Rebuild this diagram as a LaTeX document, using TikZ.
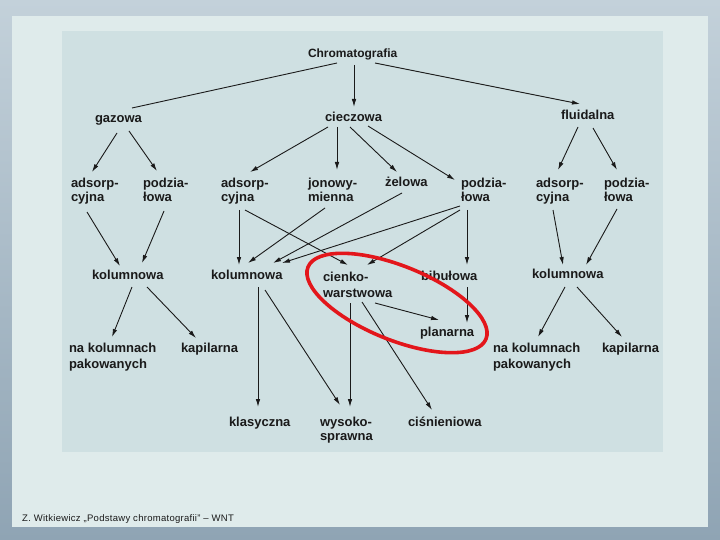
\documentclass[tikz,border=0pt]{standalone}
\usepackage{fontspec}
\setmainfont{Liberation Sans}
\newfontfamily\lblfont{Liberation Sans Bold}
\newfontfamily\srcfont[LetterSpace=3]{Liberation Sans}
\usetikzlibrary{arrows.meta}
\definecolor{bgtop}{HTML}{C3D1DA}
\definecolor{bgbot}{HTML}{8FA4B4}
\definecolor{panelc}{HTML}{DFEBEB}
\definecolor{imgc}{HTML}{CFE0E2}
\definecolor{inkc}{HTML}{1A1A1A}
\definecolor{markred}{HTML}{E3161B}
\begin{document}
\begin{tikzpicture}[x=1pt,y=-1pt,
  lbl/.style={font=\lblfont\fontsize{13}{14}\selectfont, inner sep=0pt, outer sep=0pt, align=left, anchor=base west, text=inkc},
  arr/.style={draw=inkc, line width=0.9pt, -{Latex[length=8pt,width=4.5pt]}},
  plainln/.style={draw=inkc, line width=0.9pt}]
\useasboundingbox (0,0) rectangle (720,540);
% background
\shade[top color=bgtop, bottom color=bgbot] (0,0) rectangle (720,540);
\fill[panelc] (12,16) rectangle (708,527);
\fill[imgc] (62,31) rectangle (663,452);
% nodes (multi-line nodes are placed at the baseline of their last line)
\node[lbl, font=\lblfont\fontsize{12}{14}\selectfont] (chrom) at (308,58) {Chromatografia};
\node[lbl] (gaz) at (95,123) {gazowa};
\node[lbl] (ciecz) at (325,122) {cieczowa};
\node[lbl] (fluid) at (561,120) {fluidalna};
\node[lbl] (gA) at (71,202) {adsorp-\\cyjna};
\node[lbl] (gP) at (143,202) {podzia-\\łowa};
\node[lbl] (cA) at (221,202) {adsorp-\\cyjna};
\node[lbl] (cJ) at (308,202) {jonowy-\\mienna};
\node[lbl] (cZ) at (385,187) {żelowa};
\node[lbl] (cP) at (461,202) {podzia-\\łowa};
\node[lbl] (fA) at (536,202) {adsorp-\\cyjna};
\node[lbl] (fP) at (604,202) {podzia-\\łowa};
\node[lbl] (gK) at (92,279) {kolumnowa};
\node[lbl] (cK) at (211,279) {kolumnowa};
\node[lbl] (cC) at (323,297.5) {cienko-\\[2.5pt]warstwowa};
\node[lbl] (cB) at (421,280.5) {bibułowa};
\node[lbl] (fK) at (532,278) {kolumnowa};
\node[lbl] (cPl) at (420,336) {planarna};
\node[lbl] (gN) at (69,368) {na kolumnach\\[1.5pt]pakowanych};
\node[lbl] (gKap) at (181,352) {kapilarna};
\node[lbl] (fN) at (493,368) {na kolumnach\\[1.5pt]pakowanych};
\node[lbl] (fKap) at (602,352) {kapilarna};
\node[lbl] (cKl) at (229,426) {klasyczna};
\node[lbl] (cW) at (320,440.5) {wysoko-\\sprawna};
\node[lbl] (cCis) at (408,426) {ciśnieniowa};
% connectors
\draw[plainln] ([shift={(29,5)}]chrom.base west) -- ([shift={(37,-15)}]gaz.base west);
\draw[arr] ([shift={(46,7)}]chrom.base west) -- ([shift={(29,-15)}]ciecz.base west);
\draw[arr] ([shift={(67,5)}]chrom.base west) -- ([shift={(19,-16)}]fluid.base west);
\draw[arr] ([shift={(22,10)}]gaz.base west) -- ([shift={(21,-30)}]gA.base west);
\draw[arr] ([shift={(34,8)}]gaz.base west) -- ([shift={(14,-31)}]gP.base west);
\draw[arr] ([shift={(3,5)}]ciecz.base west) -- ([shift={(29,-30)}]cA.base west);
\draw[arr] ([shift={(12,5)}]ciecz.base west) -- ([shift={(29,-32)}]cJ.base west);
\draw[arr] ([shift={(25,5)}]ciecz.base west) -- ([shift={(12,-15)}]cZ.base west);
\draw[arr] ([shift={(43,4)}]ciecz.base west) -- ([shift={(-6,-22)}]cP.base west);
\draw[arr] ([shift={(17,7)}]fluid.base west) -- ([shift={(22,-32)}]fA.base west);
\draw[arr] ([shift={(32,8)}]fluid.base west) -- ([shift={(13,-32)}]fP.base west);
\draw[arr] ([shift={(16,10)}]gA.base west) -- ([shift={(28,-13)}]gK.base west);
\draw[arr] ([shift={(21,9)}]gP.base west) -- ([shift={(50,-16)}]gK.base west);
\draw[arr] ([shift={(40,8)}]gK.base west) -- ([shift={(43,-31)}]gN.base west);
\draw[arr] ([shift={(55,8)}]gK.base west) -- ([shift={(15,-14)}]gKap.base west);
\draw[arr] ([shift={(18,8)}]cA.base west) -- ([shift={(28,-14)}]cK.base west);
\draw[arr] ([shift={(24,8)}]cA.base west) -- ([shift={(25,-32.5)}]cC.base west);
\draw[arr] ([shift={(17,6)}]cJ.base west) -- ([shift={(37,-16)}]cK.base west);
\draw[arr] ([shift={(17,6)}]cZ.base west) -- ([shift={(62,-16)}]cK.base west);
\draw[arr] ([shift={(-1,4)}]cP.base west) -- ([shift={(71,-16)}]cK.base west);
\draw[arr] ([shift={(-1,8)}]cP.base west) -- ([shift={(44,-32.5)}]cC.base west);
\draw[arr] ([shift={(6,8)}]cP.base west) -- ([shift={(46,-15.5)}]cB.base west);
\draw[arr] ([shift={(47,8)}]cK.base west) -- ([shift={(29,-19)}]cKl.base west);
\draw[arr] ([shift={(54,11)}]cK.base west) -- ([shift={(20,-35.5)}]cW.base west);
\draw[arr] ([shift={(27,5.5)}]cC.base west) -- ([shift={(30,-33.5)}]cW.base west);
\draw[arr] ([shift={(39,4.5)}]cC.base west) -- ([shift={(24,-16)}]cCis.base west);
\draw[arr] ([shift={(52,5.5)}]cC.base west) -- ([shift={(19,-16)}]cPl.base west);
\draw[arr] ([shift={(46,6.5)}]cB.base west) -- ([shift={(47,-13)}]cPl.base west);
\draw[arr] ([shift={(17,8)}]fA.base west) -- ([shift={(31,-13)}]fK.base west);
\draw[arr] ([shift={(13,7)}]fP.base west) -- ([shift={(54,-13)}]fK.base west);
\draw[arr] ([shift={(33,9)}]fK.base west) -- ([shift={(45,-31)}]fN.base west);
\draw[arr] ([shift={(45,9)}]fK.base west) -- ([shift={(20,-15)}]fKap.base west);
% red marking
\draw[markred, line width=3.6pt, rotate around={-22:(397,303)}] (397,303) ellipse [x radius=96, y radius=37];
% source line
\node[font=\srcfont\fontsize{9.5}{10}\selectfont, inner sep=0pt, anchor=base west, text=inkc] (src) at (22,521) {Z. Witkiewicz „Podstawy chromatografii” – WNT};
\end{tikzpicture}
\end{document}
